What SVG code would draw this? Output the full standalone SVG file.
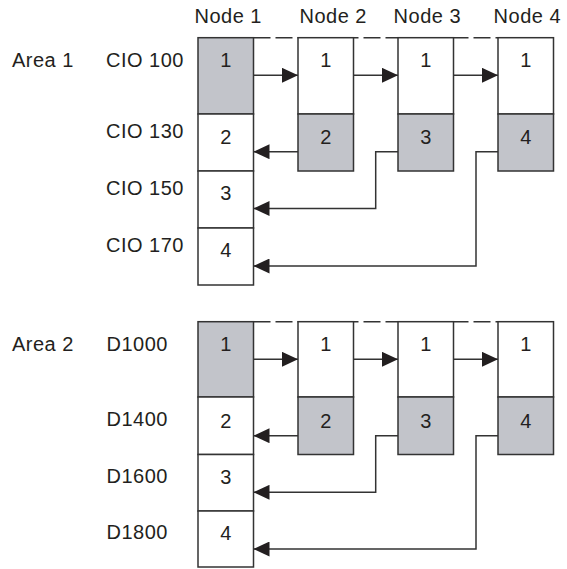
<svg xmlns="http://www.w3.org/2000/svg" width="567" height="569" viewBox="0 0 567 569">
<style>
text{font-family:"Liberation Sans",Arial,Helvetica,sans-serif;font-size:20px;fill:#231f20;letter-spacing:0.5px}
.n{text-anchor:middle;letter-spacing:0}
.c{stroke:#333;stroke-width:1.5;fill:#fff}
.g{stroke:#333;stroke-width:1.5;fill:#c2c4ca}
.l{stroke:#333;stroke-width:1.5;fill:none}
.d{stroke:#333;stroke-width:1.5;fill:none;stroke-dasharray:17 5}
.a{marker-end:url(#ah)}
</style>
<defs>
<marker id="ah" markerUnits="userSpaceOnUse" markerWidth="16" markerHeight="15" refX="16" refY="7.5" orient="auto" viewBox="0 0 16 15">
<path d="M0,0 L16,7.5 L0,15 z" fill="#231f20"/>
</marker>
</defs>
<rect width="567" height="569" fill="#fff"/>
<g id="headers">
<text x="194.5" y="22.7">Node 1</text>
<text x="299.5" y="22.7">Node 2</text>
<text x="393.6" y="22.7">Node 3</text>
<text x="493.6" y="22.7">Node 4</text>
</g>
<g id="labels">
<text x="12" y="66.7">Area 1</text>
<text x="106" y="66.7">CIO 100</text>
<text x="106" y="138.3">CIO 130</text>
<text x="106" y="195">CIO 150</text>
<text x="106" y="251.7">CIO 170</text>
<text x="12" y="350.7">Area 2</text>
<text x="106.5" y="350.7">D1000</text>
<text x="106.5" y="426">D1400</text>
<text x="106.5" y="483.3">D1600</text>
<text x="106.5" y="539.3">D1800</text>
</g>
<g id="connectors">
<path class="d" d="M253.5,37.7 H498"/>
<path class="l a" d="M253.5,75.3 H298"/>
<path class="l a" d="M353.5,75.3 H398"/>
<path class="l a" d="M453.5,75.3 H498"/>
<path class="l a" d="M298,151.7 H253.5"/>
<path class="l a" d="M398,151.7 H375.7 V208.5 H253.5"/>
<path class="l a" d="M498,151.7 H476 V266 H253.5"/>
<path class="d" d="M253.5,321.7 H498"/>
<path class="l a" d="M253.5,359.3 H298"/>
<path class="l a" d="M353.5,359.3 H398"/>
<path class="l a" d="M453.5,359.3 H498"/>
<path class="l a" d="M298,435.7 H253.5"/>
<path class="l a" d="M398,435.7 H375.7 V492.3 H253.5"/>
<path class="l a" d="M498,435.7 H476 V549 H253.5"/>
</g>
<g id="a1-node1">
<rect class="g" x="198" y="37.7" width="55.5" height="76.3"/>
<rect class="c" x="198" y="114" width="55.5" height="57"/>
<rect class="c" x="198" y="171" width="55.5" height="57"/>
<rect class="c" x="198" y="228" width="55.5" height="57"/>
<text class="n" x="225.75" y="66.7">1</text>
<text class="n" x="225.75" y="144">2</text>
<text class="n" x="225.75" y="200">3</text>
<text class="n" x="225.75" y="256.7">4</text>
</g>
<g id="a1-node2">
<rect class="c" x="298" y="37.7" width="55.5" height="76.3"/>
<rect class="g" x="298" y="114" width="55.5" height="57"/>
<text class="n" x="325.75" y="66.7">1</text>
<text class="n" x="325.75" y="144">2</text>
</g>
<g id="a1-node3">
<rect class="c" x="398" y="37.7" width="55.5" height="76.3"/>
<rect class="g" x="398" y="114" width="55.5" height="57"/>
<text class="n" x="425.75" y="66.7">1</text>
<text class="n" x="425.75" y="144">3</text>
</g>
<g id="a1-node4">
<rect class="c" x="498" y="37.7" width="55.5" height="76.3"/>
<rect class="g" x="498" y="114" width="55.5" height="57"/>
<text class="n" x="525.75" y="66.7">1</text>
<text class="n" x="525.75" y="144">4</text>
</g>
<g id="a2-node1">
<rect class="g" x="198" y="321.7" width="55.5" height="75.3"/>
<rect class="c" x="198" y="397" width="55.5" height="57.5"/>
<rect class="c" x="198" y="454.5" width="55.5" height="56.5"/>
<rect class="c" x="198" y="511" width="55.5" height="56"/>
<text class="n" x="225.75" y="350.5">1</text>
<text class="n" x="225.75" y="428.3">2</text>
<text class="n" x="225.75" y="483.5">3</text>
<text class="n" x="225.75" y="540">4</text>
</g>
<g id="a2-node2">
<rect class="c" x="298" y="321.7" width="55.5" height="75.3"/>
<rect class="g" x="298" y="397" width="55.5" height="57.5"/>
<text class="n" x="325.75" y="350.5">1</text>
<text class="n" x="325.75" y="428.3">2</text>
</g>
<g id="a2-node3">
<rect class="c" x="398" y="321.7" width="55.5" height="75.3"/>
<rect class="g" x="398" y="397" width="55.5" height="57.5"/>
<text class="n" x="425.75" y="350.5">1</text>
<text class="n" x="425.75" y="428.3">3</text>
</g>
<g id="a2-node4">
<rect class="c" x="498" y="321.7" width="55.5" height="75.3"/>
<rect class="g" x="498" y="397" width="55.5" height="57.5"/>
<text class="n" x="525.75" y="350.5">1</text>
<text class="n" x="525.75" y="428.3">4</text>
</g>
</svg>
